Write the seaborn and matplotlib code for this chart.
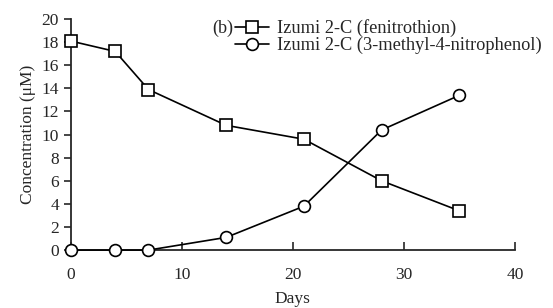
import pandas as pd
import seaborn as sns
import matplotlib.pyplot as plt

days = [0, 4, 7, 14, 21, 28, 35]
fenitrothion = [18.1, 17.2, 13.9, 10.8, 9.6, 6.0, 3.4]
nitrophenol = [0.0, 0.0, 0.0, 1.1, 3.8, 10.4, 13.4]
labels = ['Izumi 2-C (fenitrothion)', 'Izumi 2-C (3-methyl-4-nitrophenol)']

df = pd.DataFrame({
    'Days': days * 2,
    'conc': fenitrothion + nitrophenol,
    'series': [labels[0]] * len(days) + [labels[1]] * len(days),
})

sns.set_style('ticks')
plt.rcParams['font.family'] = ['Liberation Serif', 'DejaVu Serif']
fs = 12.5

fig = plt.figure(figsize=(5.53, 3.08), dpi=100)
ax = fig.add_axes([0.128, 0.188, 0.803, 0.75])

sns.lineplot(data=df, x='Days', y='conc', hue='series', style='series',
             markers={labels[0]: 's', labels[1]: 'o'}, dashes=False,
             palette=['black', 'black'], markersize=8.5, markerfacecolor='white',
             markeredgecolor='black', markeredgewidth=1.2, linewidth=1.2,
             ax=ax, clip_on=False, zorder=3)

ax.set_xlim(0, 40)
ax.set_ylim(0, 20)
ax.set_xticks([0, 10, 20, 30, 40])
ax.set_yticks(range(0, 21, 2))
ax.tick_params(axis='x', direction='in', length=6, width=1.2, labelsize=fs, pad=12)
ax.tick_params(axis='y', direction='out', length=5, width=1.2, labelsize=fs)
for s in ['left', 'bottom']:
    ax.spines[s].set_linewidth(1.3)
sns.despine(ax=ax)
ax.set_xlabel('Days', fontsize=fs, labelpad=6)
ax.set_ylabel('Concentration (\u03bcM)', fontsize=fs)

leg = ax.legend(loc='upper left', bbox_to_anchor=(0.369, 1.0), frameon=False,
                fontsize=13.2, handlelength=1.9, handletextpad=0.4,
                labelspacing=0.0, borderaxespad=0, borderpad=0)
ax.text(0.365, 0.961, '(b)', transform=ax.transAxes, fontsize=13,
        ha='right', va='center')

fig.savefig('out.png', dpi=100)
